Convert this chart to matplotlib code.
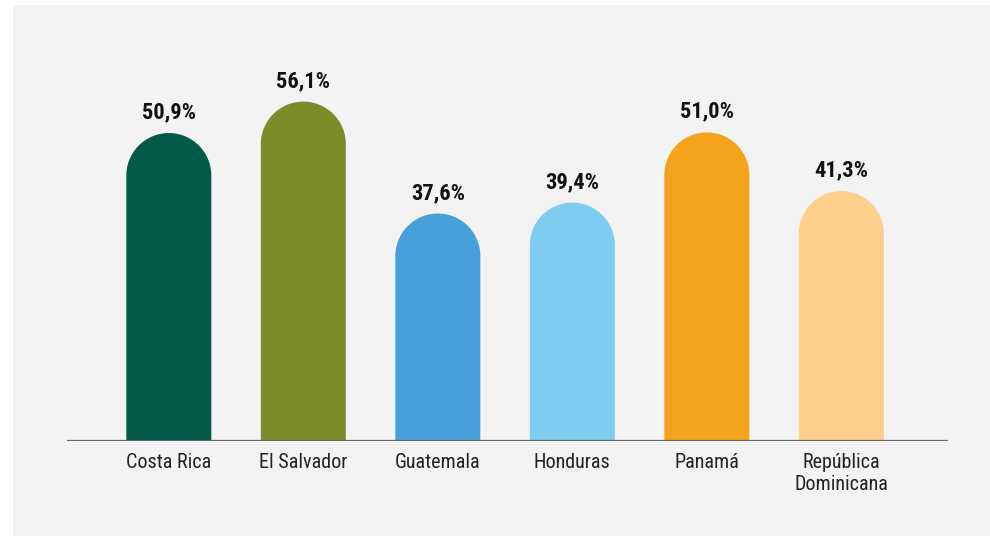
import numpy as np
import matplotlib.pyplot as plt
from matplotlib.patches import Rectangle, Polygon

paises = ['Costa Rica', 'El Salvador', 'Guatemala', 'Honduras', 'Panamá', 'República\nDominicana']
valores = [50.9, 56.1, 37.6, 39.4, 51.0, 41.3]
etiquetas = ['50,9%', '56,1%', '37,6%', '39,4%', '51,0%', '41,3%']
colores = ['#035a4a', '#7c8c2a', '#48a0da', '#7ecdf0', '#f5a21d', '#fcd08a']

plt.rcParams['font.family'] = ['Roboto Condensed', 'Archivo Narrow', 'DejaVu Sans']

fig = plt.figure(figsize=(9.9, 5.36), dpi=100)
fig.patch.set_facecolor('white')
fig.patches.append(Rectangle((13 / 990, 0), 1, 531 / 536, transform=fig.transFigure,
                             facecolor='#f3f3f3', edgecolor='none', zorder=-5))

ax = fig.add_axes([67 / 990, 95 / 536, 881 / 990, 363 / 536])
ax.set_facecolor('none')
ax.set_zorder(1)
ax.set_xlim(-0.757, 5.793)
ax.set_ylim(0, 60)

# barras con la parte superior redondeada (semicírculo en píxeles)
ancho = 0.632
rx = ancho / 2
ry = rx * (134.4 / 6.05)  # radio vertical en unidades de datos
t = np.linspace(0, np.pi, 60)
for i, (v, c) in enumerate(zip(valores, colores)):
    cy = v - ry
    arco = np.column_stack([i + rx * np.cos(t), cy + ry * np.sin(t)])
    pts = np.vstack([[i + rx, 0], arco, [i - rx, 0]])
    ax.add_patch(Polygon(pts, closed=True, facecolor=c, edgecolor='none', zorder=2))
    ax.text(i, v + 1.6, etiquetas[i], ha='center', va='bottom', fontsize=16.2,
            fontweight='bold', color='#111111')

ax.axhline(0, color='#6a6a6a', lw=1.6, zorder=3)
for s in ax.spines.values():
    s.set_visible(False)
ax.set_yticks([])
ax.set_xticks(range(len(paises)))
ax.set_xticklabels(paises, fontsize=14.5, color='#222222', linespacing=1.15)
ax.tick_params(axis='x', length=0, pad=9)

fig.savefig('out.png', dpi=100)
